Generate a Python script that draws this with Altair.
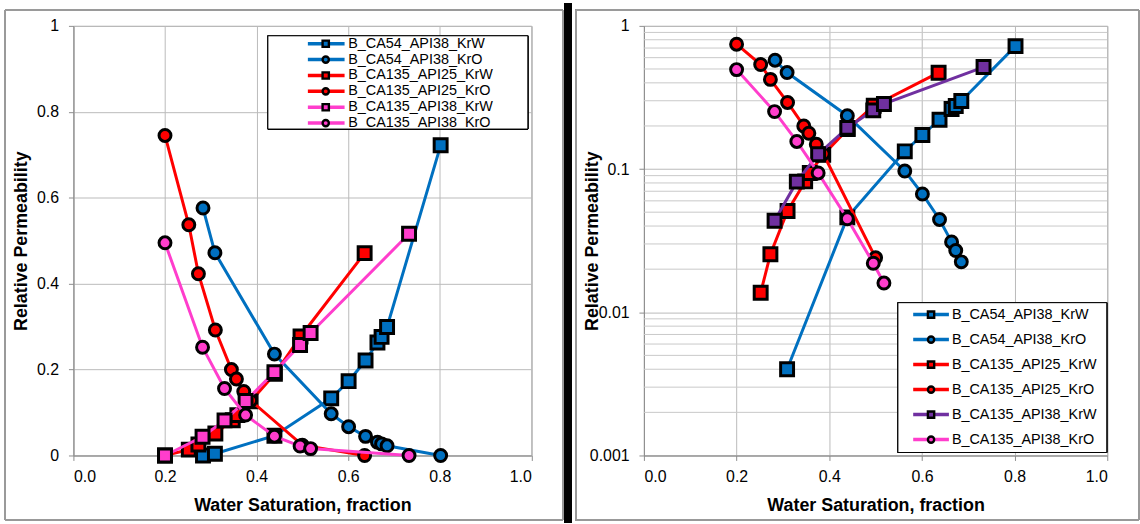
import altair as alt
import pandas as pd

# ---------------- data ----------------
series_names = [
    "B_CA54_API38_KrW",
    "B_CA54_API38_KrO",
    "B_CA135_API25_KrW",
    "B_CA135_API25_KrO",
    "B_CA135_API38_KrW",
    "B_CA135_API38_KrO",
]

sw_ca54 = [0.283, 0.309, 0.439, 0.563, 0.601, 0.638, 0.664, 0.673, 0.685, 0.802]
krw_ca54 = [0.0, 0.004, 0.046, 0.133, 0.173, 0.221, 0.263, 0.276, 0.299, 0.722]
kro_ca54 = [0.576, 0.472, 0.236, 0.097, 0.067, 0.0445, 0.031, 0.027, 0.0225, 0.0]

sw_api25_w = [0.2, 0.252, 0.273, 0.31, 0.348, 0.358, 0.387, 0.44, 0.496, 0.636]
krw_api25 = [0.0, 0.0137, 0.0254, 0.051, 0.082, 0.094, 0.126, 0.19, 0.277, 0.471]
sw_api25_o = [0.2, 0.252, 0.273, 0.31, 0.345, 0.356, 0.372, 0.387, 0.5, 0.636]
kro_api25 = [0.745, 0.537, 0.423, 0.292, 0.2, 0.178, 0.149, 0.128, 0.024, 0.0]

sw_api38 = [0.2, 0.282, 0.33, 0.376, 0.439, 0.495, 0.518, 0.733]
krw_api38 = [0.0, 0.0436, 0.0817, 0.127, 0.194, 0.257, 0.285, 0.516]
kro_api38 = [0.495, 0.252, 0.156, 0.094, 0.045, 0.022, 0.016, 0.0]

x_ticks = [0.0, 0.2, 0.4, 0.6, 0.8, 1.0]
lin_ticks = [0.0, 0.2, 0.4, 0.6, 0.8, 1.0]
log_ticks = [0.001, 0.01, 0.1, 1]
log_minor = [0.002, 0.003, 0.004, 0.005, 0.006, 0.007, 0.008, 0.009,
             0.02, 0.03, 0.04, 0.05, 0.06, 0.07, 0.08, 0.09,
             0.2, 0.3, 0.4, 0.5, 0.6, 0.7, 0.8, 0.9]

left_colors = ["#0070C0", "#0070C0", "#FF0000", "#FF0000", "#FF3DCC", "#FF3DCC"]
right_colors = ["#0070C0", "#0070C0", "#FF0000", "#FF0000", "#7030A0", "#FF3DCC"]
shapes = ["square", "circle", "square", "circle", "square", "circle"]

series_data = [
    (sw_ca54, krw_ca54), (sw_ca54, kro_ca54),
    (sw_api25_w, krw_api25), (sw_api25_o, kro_api25),
    (sw_api38, krw_api38), (sw_api38, kro_api38),
]

rows = []
for name, (xs, ys) in zip(series_names, series_data):
    for i, (a, b) in enumerate(zip(xs, ys)):
        rows.append({"series": name, "i": i, "sw": a, "kr": b})
df = pd.DataFrame(rows)

FONT = "Liberation Sans"
H = 433


def legend_df(colors):
    return pd.DataFrame({
        "series": series_names,
        "row": list(range(len(series_names))),
        "col": colors,
        "shp": shapes,
    })


def panel(log, colors, W, leg):
    if log:
        yscale = alt.Scale(type="log", domain=[0.001, 1], nice=False)
        yaxis = alt.Axis(values=log_ticks, format="~g", title="Relative Permeability",
                         titleX=-52, titleY=H / 2, titleAngle=270,
                         titleAlign="center", titleBaseline="middle", labelPadding=10)
        base = alt.Chart(df).transform_filter("datum.kr > 0")
    else:
        yscale = alt.Scale(domain=[0, 1], nice=False, zero=False)
        yaxis = alt.Axis(values=lin_ticks, format="~g", title="Relative Permeability",
                         titleX=-52, titleY=H / 2, titleAngle=270,
                         titleAlign="center", titleBaseline="middle", labelPadding=10)
        base = alt.Chart(df)
    xscale = alt.Scale(domain=[0, 1], nice=False, zero=False)
    xaxis = alt.Axis(values=x_ticks, format=".1f", title="Water Saturation, fraction",
                     titleX=W / 2, titleY=50, titleAlign="center", titleBaseline="middle",
                     labelPadding=8)
    X = alt.X("sw:Q", scale=xscale, axis=xaxis)
    Y = alt.Y("kr:Q", scale=yscale, axis=yaxis)

    layers = []
    # panel frame
    layers.append(alt.Chart(df).mark_rect(fillOpacity=0, stroke="#9a9a9a", strokeWidth=1).encode(
        x=alt.value(-68.7), x2=alt.value(W + 31.8), y=alt.value(-16), y2=alt.value(498)))
    if log:
        minor = pd.DataFrame({"kr": log_minor})
        layers.append(alt.Chart(minor).mark_rule(color="#c8c8c8", strokeWidth=1).encode(
            y=alt.Y("kr:Q", scale=yscale, axis=yaxis)))
    for name, c, shp in zip(series_names, colors, shapes):
        sub = base.transform_filter(alt.datum.series == name)
        layers.append(sub.mark_line(strokeWidth=3).encode(
            x=X, y=Y, color=alt.value(c), order=alt.Order("i:Q")))
        size = 170 if shp == "square" else 145
        layers.append(sub.mark_point(shape=shp, filled=True, size=size, opacity=1,
                                     strokeWidth=3).encode(
            x=X, y=Y, fill=alt.value(c), stroke=alt.value("black")))

    # legend (drawn as chrome inside the plot)
    ld = alt.Chart(legend_df(colors))
    bx1, bx2, by1, by2, ry0, rstep, lx1, lx2, mx, tx = leg
    layers.append(ld.mark_rect(fill="white", stroke="black", strokeWidth=1).encode(
        x=alt.value(bx1), x2=alt.value(bx2), y=alt.value(by1), y2=alt.value(by2)))
    lyr = ld.transform_calculate(ly=f"{ry0} + {rstep} * datum.row",
                                 lx1=f"{lx1}", lx2=f"{lx2}", mx=f"{mx}", tx=f"{tx}")
    layers.append(lyr.mark_rule(strokeWidth=3.5).encode(
        x=alt.X("lx1:Q", scale=None), x2=alt.X2("lx2:Q"),
        y=alt.Y("ly:Q", scale=None), color=alt.Color("col:N", scale=None)))
    layers.append(lyr.mark_point(filled=True, size=40, opacity=1, stroke="black", strokeWidth=2.4).encode(
        x=alt.X("mx:Q", scale=None), y=alt.Y("ly:Q", scale=None),
        fill=alt.Color("col:N", scale=None, legend=None),
        shape=alt.Shape("shp:N", scale=None, legend=None)))
    layers.append(lyr.mark_text(align="left", baseline="middle", font=FONT, fontSize=14.5,
                                color="black").encode(
        x=alt.X("tx:Q", scale=None), y=alt.Y("ly:Q", scale=None), text="series:N"))
    if not log:
        layers.append(alt.Chart(df).mark_rect(color="black").encode(
            x=alt.value(W + 33.8), x2=alt.value(W + 40.8), y=alt.value(-23), y2=alt.value(501)))
    return alt.layer(*layers).properties(width=W, height=H)


WL, WR = 461.5, 467
left = panel(False, left_colors, WL,
             (196, 458, 10, 104, 18, 16, 236.3, 273.3, 254.3, 277))
right = panel(True, right_colors, WR,
              (256, 466.5, 279, 430, 291, 25.2, 271.4, 307.4, 289.4, 310.4))

chart = alt.hconcat(left, right, spacing=2).properties(
    padding={"left": 4, "top": 0, "right": 0, "bottom": 0},
    background="white",
).configure_axis(
    labelFont=FONT, labelFontSize=16, labelColor="black",
    titleFont=FONT, titleFontSize=18, titleFontWeight="bold", titleColor="black",
    gridColor="#bababa", gridWidth=1, domainColor="#8c8c8c", tickColor="#8c8c8c", tickSize=5,
).configure_view(stroke="#a6a6a6")

chart.save("out.html", embed_options={"renderer": "svg", "actions": False})
